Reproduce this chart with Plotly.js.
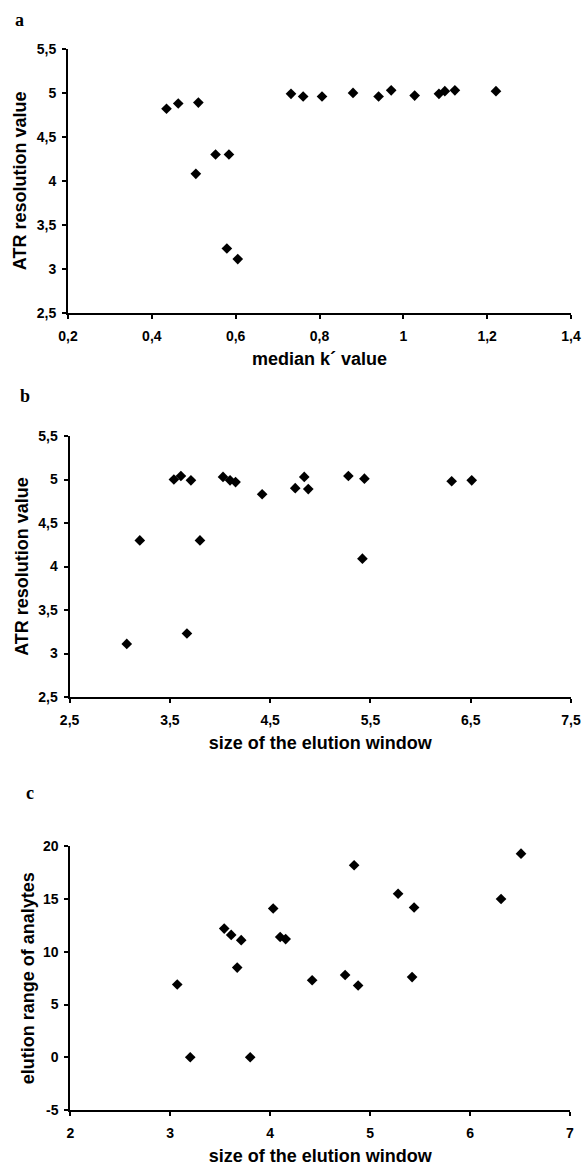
<!DOCTYPE html>
<html>
<head>
<meta charset="utf-8">
<script src="https://cdn.plot.ly/plotly-3.0.1.min.js"></script>
<style>
  html, body { margin: 0; padding: 0; background: #ffffff; }
  #chart { width: 582px; height: 1166px; }
</style>
</head>
<body>
<div id="chart"></div>
<script>
// ---- Data ----
// Panel a: median k' value vs ATR resolution value
const kMedian = [0.435, 0.463, 0.511, 0.505, 0.552, 0.584, 0.579, 0.605, 0.732, 0.761, 0.806, 0.880, 0.941, 0.971, 1.027, 1.085, 1.099, 1.123, 1.221];
const atrA    = [4.82, 4.88, 4.89, 4.08, 4.30, 4.30, 3.23, 3.11, 4.99, 4.96, 4.96, 5.00, 4.96, 5.03, 4.97, 4.99, 5.02, 5.03, 5.02];

// Panel b: size of the elution window vs ATR resolution value
const windowB = [3.20, 3.54, 3.61, 3.71, 3.80, 4.03, 4.10, 4.155, 4.42, 4.75, 4.84, 4.88, 5.28, 5.44, 5.42, 6.31, 6.51, 3.07, 3.67];
const atrB    = [4.30, 5.00, 5.04, 4.99, 4.30, 5.03, 4.99, 4.97, 4.83, 4.90, 5.03, 4.89, 5.04, 5.01, 4.09, 4.98, 4.99, 3.11, 3.23];

// Panel c: size of the elution window vs elution range of analytes
const windowC = [3.54, 3.61, 3.71, 4.03, 4.10, 4.155, 4.84, 5.28, 5.44, 6.31, 6.51, 3.67, 4.42, 4.75, 4.88, 5.42, 3.07, 3.20, 3.80];
const rangeC  = [12.2, 11.6, 11.1, 14.1, 11.4, 11.2, 18.2, 15.5, 14.2, 15.0, 19.3, 8.5, 7.3, 7.8, 6.8, 7.6, 6.9, 0, 0];

// Tick values and labels
const xTickValsA = [0.2, 0.4, 0.6, 0.8, 1.0, 1.2, 1.4];
const xTickTextA = ['0,2', '0,4', '0,6', '0,8', '1', '1,2', '1,4'];
const yTickValsAB = [2.5, 3.0, 3.5, 4.0, 4.5, 5.0, 5.5];
const yTickTextAB = ['2,5', '3', '3,5', '4', '4,5', '5', '5,5'];
const xTickValsB = [2.5, 3.5, 4.5, 5.5, 6.5, 7.5];
const xTickTextB = ['2,5', '3,5', '4,5', '5,5', '6,5', '7,5'];
const xTickValsC = [2, 3, 4, 5, 6, 7];
const xTickTextC = ['2', '3', '4', '5', '6', '7'];
const yTickValsC = [-5, 0, 5, 10, 15, 20];
const yTickTextC = ['-5', '0', '5', '10', '15', '20'];

const panelLetters = ['a', 'b', 'c'];
const xTitles = ['median k\u00b4 value', 'size of the elution window', 'size of the elution window'];
const yTitles = ['ATR resolution value', 'ATR resolution value', 'elution range of analytes'];

// ---- Layout helpers (pixel -> paper/domain) ----
const W = 582, H = 1166;
const M = {l: 40, r: 5, t: 40, b: 40};
const PW = W - M.l - M.r, PH = H - M.t - M.b;
const dx = px => (px - M.l) / PW;
const dy = py => 1 - (py - M.t) / PH;
const bold = arr => arr.map(t => '<b>' + t + '</b>');

const markerStyle = {symbol: 'diamond', size: 8.2, color: '#000000', line: {width: 0}};
const tickFont = {family: 'Liberation Sans, Arial, sans-serif', size: 14, color: '#000000', weight: 700};
const titleFont = {family: 'Liberation Sans, Arial, sans-serif', size: 18, color: '#000000', weight: 700};

function axisBase(extra) {
  return Object.assign({
    showline: true, linewidth: 2, linecolor: '#000000',
    ticks: 'outside', ticklen: 4, tickwidth: 2, tickcolor: '#000000',
    showgrid: false, zeroline: false, mirror: false,
    tickmode: 'array',
    tickfont: tickFont, fixedrange: true
  }, extra);
}

const traces = [
  {x: kMedian, y: atrA, type: 'scatter', mode: 'markers', marker: markerStyle, xaxis: 'x', yaxis: 'y', showlegend: false},
  {x: windowB, y: atrB, type: 'scatter', mode: 'markers', marker: markerStyle, xaxis: 'x2', yaxis: 'y2', showlegend: false},
  {x: windowC, y: rangeC, type: 'scatter', mode: 'markers', marker: markerStyle, xaxis: 'x3', yaxis: 'y3', showlegend: false}
];

const layout = {
  width: W, height: H,
  margin: M,
  paper_bgcolor: '#ffffff', plot_bgcolor: '#ffffff',
  separators: ', ',
  showlegend: false,
  xaxis: axisBase({domain: [dx(68), dx(571)], range: [0.2, 1.4], anchor: 'y',
    tickvals: xTickValsA, ticktext: bold(xTickTextA), ticklabelstandoff: 5,
    title: {text: xTitles[0], font: titleFont, standoff: 10}}),
  yaxis: axisBase({domain: [dy(312.7), dy(49)], range: [2.5, 5.5], anchor: 'x',
    tickvals: yTickValsAB, ticktext: bold(yTickTextAB), ticklabelstandoff: 3,
    title: {text: yTitles[0], font: titleFont, standoff: 5}}),
  xaxis2: axisBase({domain: [dx(69.6), dx(571)], range: [2.5, 7.5], anchor: 'y2',
    tickvals: xTickValsB, ticktext: bold(xTickTextB), ticklabelstandoff: 5,
    title: {text: xTitles[1], font: titleFont, standoff: 10}}),
  yaxis2: axisBase({domain: [dy(697), dy(436)], range: [2.5, 5.5], anchor: 'x2',
    tickvals: yTickValsAB, ticktext: bold(yTickTextAB), ticklabelstandoff: 3,
    title: {text: yTitles[1], font: titleFont, standoff: 5}}),
  xaxis3: axisBase({domain: [dx(70.3), dx(570)], range: [2, 7], anchor: 'y3',
    tickvals: xTickValsC, ticktext: bold(xTickTextC), ticklabelstandoff: 5,
    title: {text: xTitles[2], font: titleFont, standoff: 11}}),
  yaxis3: axisBase({domain: [dy(1110), dy(846.3)], range: [-5, 20], anchor: 'x3',
    tickvals: yTickValsC, ticktext: bold(yTickTextC), ticklabelstandoff: 3,
    title: {text: yTitles[2], font: titleFont, standoff: 4}}),
  annotations: [
    {text: panelLetters[0], x: dx(19), y: dy(20)},
    {text: panelLetters[1], x: dx(25), y: dy(396)},
    {text: panelLetters[2], x: dx(30), y: dy(793)}
  ].map(a => Object.assign(a, {
    xref: 'paper', yref: 'paper', xanchor: 'center', yanchor: 'middle', showarrow: false,
    font: {family: 'Liberation Serif, Times New Roman, serif', size: 18, color: '#000000', weight: 700}
  }))
};

Plotly.newPlot('chart', traces, layout, {staticPlot: true, displayModeBar: false});
</script>
</body>
</html>
